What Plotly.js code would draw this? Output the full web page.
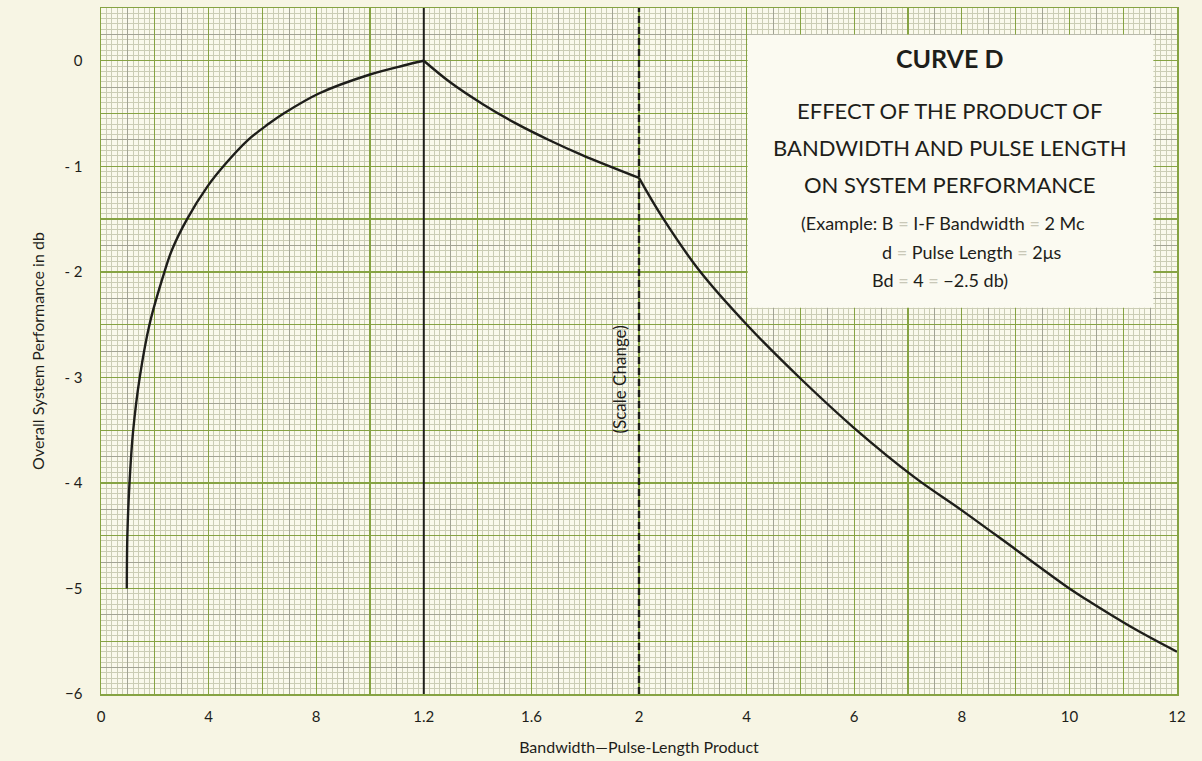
<!DOCTYPE html>
<html>
<head>
<meta charset="utf-8">
<script src="https://cdn.plot.ly/plotly-3.0.1.min.js"></script>
<style>
  html, body { margin: 0; padding: 0; background: #f7f5e4; }
  #chart { width: 1202px; height: 761px; }
</style>
</head>
<body>
<div id="chart"></div>
<script>
// ---- Data (Bandwidth × Pulse-Length product Bd, performance in db) ----
// Segment 1: Bd from ~0.1 to 1.2
const bdLow = [0.096, 0.098, 0.106, 0.119, 0.144, 0.182, 0.236, 0.264, 0.32, 0.396, 0.455, 0.547, 0.622, 0.679, 0.81, 1.0, 1.125, 1.2];
const dbLow = [-5.0, -4.5, -4.0, -3.52, -3.0, -2.48, -2.0, -1.79, -1.5, -1.19, -1.0, -0.75, -0.6, -0.5, -0.31, -0.13, -0.045, 0];
// Segment 2: Bd from 1.2 to 2
const bdMid = [1.2, 1.298, 1.421, 1.544, 1.667, 1.789, 2.0];
const dbMid = [0, -0.204, -0.414, -0.596, -0.753, -0.894, -1.11];
// Segment 3: Bd from 2 to 12 (after scale change)
const bdHigh = [2.0, 2.43, 3.11, 4.04, 5.02, 6.0, 7.13, 8.0, 9.0, 10.0, 10.3, 11.2, 12.0];
const dbHigh = [-1.11, -1.48, -1.98, -2.52, -3.02, -3.48, -3.95, -4.26, -4.63, -5.0, -5.1, -5.38, -5.6];

// Tick labels (as printed on the chart)
const xTickBd = [0, 0.4, 0.8, 1.2, 1.6, 2, 4, 6, 8, 10, 12];
const xTickText = ['0', '4', '8', '1.2', '1.6', '2', '4', '6', '8', '10', '12'];
const yTickVals = [0, -1, -2, -3, -4, -5, -6];
const yTickText = ['0', '- 1', '- 2', '- 3', '- 4', '\u22125', '\u22126'];

// Vertical reference lines
const peakLineBd = 1.2;
const scaleChangeBd = 2;

// Piecewise axis: 0–2 in steps of 0.4 per division, then 2–12 in steps of 2 per division
function toPos(bd) { return bd <= 2 ? bd / 0.4 : 5 + (bd - 2) / 2; }

const FONT = 'Lato, "Open Sans", sans-serif';
const INK = '#1e1e1a';
const GREEN = '#86a343';
const GRAY = '#a2a394';
const FINE = '#cbcdb5';
const EQ = '#c9c8b8';

function seg(bd, db) {
  return {
    x: bd.map(toPos), y: db, type: 'scatter', mode: 'lines',
    line: { color: INK, width: 2.4, shape: 'spline', smoothing: 1 },
    hoverinfo: 'skip', showlegend: false
  };
}

const traces = [
  { x: [], y: [], xaxis: 'x2', yaxis: 'y2', type: 'scatter', showlegend: false, hoverinfo: 'skip' },
  { x: [], y: [], xaxis: 'x3', yaxis: 'y3', type: 'scatter', showlegend: false, hoverinfo: 'skip' },
  seg(bdLow, dbLow),
  seg(bdMid, dbMid),
  seg(bdHigh, dbHigh)
];

const XR = [0, 10];
const YR = [-6, 0.5];

const gridAxisBase = {
  showticklabels: false, ticks: '', showline: false, zeroline: false, tickmode: 'linear'
};

function boxText(text, x, y, size, anchor) {
  return { text: text, xref: 'paper', yref: 'paper', x: x, y: y,
    xanchor: anchor || 'center', yanchor: 'middle', showarrow: false,
    font: { family: FONT, size: size, color: INK } };
}
const eq = '<span style="color:' + EQ + '">=</span>';

const layout = {
  width: 1202, height: 761,
  margin: { l: 101, r: 25, t: 8, b: 67 },
  paper_bgcolor: '#f7f5e4',
  plot_bgcolor: '#faf9ec',
  font: { family: FONT, color: INK },
  showlegend: false,
  xaxis: {
    range: XR, tickmode: 'array',
    tickvals: xTickBd.map(toPos), ticktext: xTickText,
    showgrid: false, zeroline: false,
    showline: true, linecolor: GREEN, linewidth: 1.5, mirror: true,
    ticks: 'outside', ticklen: 0, ticklabelstandoff: 8,
    tickfont: { family: FONT, size: 15, color: INK },
    title: { text: 'Bandwidth\u2014Pulse-Length Product', font: { family: FONT, size: 16, color: INK }, standoff: 18 }
  },
  yaxis: {
    range: YR, tickmode: 'array',
    tickvals: yTickVals, ticktext: yTickText,
    showgrid: false, zeroline: false,
    showline: true, linecolor: GREEN, linewidth: 1.5, mirror: true,
    ticks: 'outside', ticklen: 0, ticklabelstandoff: 14,
    tickfont: { family: FONT, size: 15, color: INK },
    title: { text: 'Overall System Performance in db', font: { family: FONT, size: 16, color: INK }, standoff: 16 }
  },
  xaxis2: Object.assign({}, gridAxisBase, {
    overlaying: 'x', anchor: 'y2', range: XR, tick0: 0, dtick: 0.25,
    showgrid: true, gridcolor: GRAY, gridwidth: 1,
    minor: { tickmode: 'linear', tick0: 0, dtick: 0.05, showgrid: true, gridcolor: FINE, gridwidth: 1, ticks: '' }
  }),
  yaxis2: Object.assign({}, gridAxisBase, {
    overlaying: 'y', anchor: 'x2', range: YR, tick0: 0, dtick: 0.25,
    showgrid: true, gridcolor: GRAY, gridwidth: 1,
    minor: { tickmode: 'linear', tick0: 0, dtick: 0.05, showgrid: true, gridcolor: FINE, gridwidth: 1, ticks: '' }
  }),
  xaxis3: Object.assign({}, gridAxisBase, {
    overlaying: 'x', anchor: 'y3', range: XR, tick0: 0, dtick: 0.5,
    showgrid: true, gridcolor: GREEN, gridwidth: 1.3
  }),
  yaxis3: Object.assign({}, gridAxisBase, {
    overlaying: 'y', anchor: 'x3', range: YR, tick0: 0, dtick: 0.5,
    showgrid: true, gridcolor: GREEN, gridwidth: 1.3
  }),
  shapes: [
    { type: 'line', xref: 'x', yref: 'paper', x0: toPos(peakLineBd), x1: toPos(peakLineBd), y0: 0, y1: 1,
      line: { color: INK, width: 2 }, layer: 'above' },
    { type: 'line', xref: 'x', yref: 'paper', x0: toPos(scaleChangeBd), x1: toPos(scaleChangeBd), y0: 0, y1: 1,
      line: { color: INK, width: 2.4, dash: '7px,4px' }, layer: 'above' },
    { type: 'rect', xref: 'paper', yref: 'paper', x0: 0.601, x1: 0.978, y0: 0.563, y1: 0.961,
      fillcolor: '#fbfaf1', line: { width: 0 }, layer: 'above' }
  ],
  annotations: [
    { text: '(Scale Change)', xref: 'x', yref: 'y', x: toPos(scaleChangeBd), y: -3.02, xshift: -20,
      xanchor: 'center', yanchor: 'middle',
      textangle: -90, showarrow: false, font: { family: FONT, size: 17, color: INK } },
    boxText('<b>CURVE D</b>', 0.789, 0.927, 25),
    boxText('EFFECT OF THE PRODUCT OF', 0.789, 0.851, 22),
    boxText('BANDWIDTH AND PULSE LENGTH', 0.789, 0.796, 22),
    boxText('ON SYSTEM PERFORMANCE', 0.789, 0.742, 22),
    boxText('(Example: B ' + eq + ' I-F Bandwidth ' + eq + ' 2 Mc', 0.649, 0.687, 18, 'left'),
    boxText('d ' + eq + ' Pulse Length ' + eq + ' 2\u03bcs', 0.724, 0.644, 18, 'left'),
    boxText('Bd ' + eq + ' 4 ' + eq + ' \u22122.5 db)', 0.715, 0.603, 18, 'left')
  ]
};

Plotly.newPlot('chart', traces, layout, { displayModeBar: false, staticPlot: true });
</script>
</body>
</html>
